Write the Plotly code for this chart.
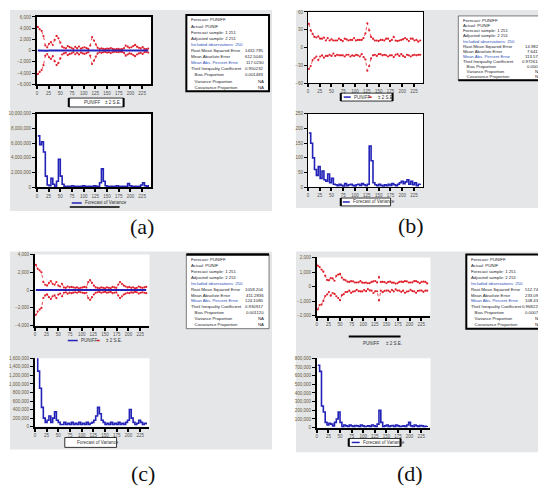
import plotly.graph_objects as go

# reference canvas is 546x489; the page body adds an 8px margin, so the figure is
# sized to the remaining area and reference pixel positions are shifted by that margin
REF_W, REF_H = 546, 489
OFF = 8
FW, FH = REF_W - OFF, REF_H - OFF

# ---------------- data ----------------
OBS = list(range(2, 242, 4))  # observation index (60 points)

FCST_A = [15, -10, 20, -5, 8, -12, 5, 10, -6, 4, 12, -8, 6, -3, 2, 5, -4, 3, -2, 4,
          -3, 2, 5, -2, 3, -4, 2, 1, -3, 6, -5, 4, -2, 3, 1, -2, 2, -1, 3, -2,
          1, 2, -1, 2, -2, 1, 3, -2, 2, 1, -3, 2, 1, -1, 2, -2, 1, 2, -1, 1]
SE2_A = [4200, 3800, 3500, 2600, 900, 600, 1200, 1500, 1000, 1900, 2600, 2200, 1400,
         700, 500, 400, 800, 600, 500, 300, 650, 400, 700, 350, 500, 600, 450, 300,
         900, 2400, 1800, 1100, 500, 300, 400, 300, 250, 350, 300, 450, 300, 200, 250,
         300, 200, 250, 400, 900, 700, 500, 600, 800, 1000, 700, 500, 400, 600, 300, 250, 350]

FCST_B = [2, -1, 1, 0, 1, -1, 0, 1, 0, -1, 1, 0, 0, 1, -1, 0, 1, 0, -1, 0,
          1, 0, -1, 0, 1, 0, 0, -1, 1, 0, 2, 1, -1, 0, 1, 0, -1, 0, 1, 0,
          0, 1, 0, -1, 0, 1, 0, 0, -1, 1, 0, 0, 1, -1, 0, 1, 0, 0, -1, 0]
SE2_B = [38, 30, 22, 18, 16, 20, 15, 14, 17, 13, 15, 12, 14, 11, 13, 12, 14, 13, 12, 15,
         13, 12, 14, 13, 15, 12, 13, 14, 12, 16, 22, 40, 30, 18, 14, 12, 13, 11, 12, 13,
         12, 14, 15, 12, 13, 17, 12, 11, 13, 12, 14, 16, 13, 12, 15, 14, 12, 13, 11, 12]

FCST_C = [20, -15, 10, -5, 8, -6, 4, 6, -3, 5, -4, 3, -2, 2, 4, -3, 2, -1, 3, -2,
          1, 2, -2, 1, 3, -1, 2, -2, 1, 4, -3, 2, -1, 2, 1, -2, 1, -1, 2, -1,
          1, 2, -1, 1, -2, 3, -2, 1, 2, -1, 1, -1, 2, -1, 1, 2, -2, 1, -1, 1]
SE2_C = [2800, 2400, 2200, 2000, 900, 600, 500, 800, 1000, 700, 600, 900, 500, 400, 700,
         300, 250, 400, 300, 350, 300, 250, 300, 200, 250, 300, 350, 300, 900, 1100,
         800, 500, 300, 250, 200, 300, 250, 200, 300, 250, 200, 350, 300, 250, 600,
         900, 700, 500, 400, 300, 350, 250, 300, 200, 250, 400, 300, 250, 300, 350]

FCST_D = [-60, 40, -30, 20, 50, -40, 30, -20, 60, -50, 40, 20, -30, 10, -20, 30, -10, 20, -30, 10,
          -20, 30, -10, 20, -30, 10, -20, 30, -10, 20, -40, 30, -20, -150, 20, -30, 10, -20, 30, -10,
          20, -30, 10, -20, 30, -10, 20, -30, 10, -20, 30, -10, 20, -30, 10, -20, 30, -10, 20, -30]
SE2_D = [1500, 1300, 1200, 1000, 700, 500, 400, 600, 500, 450, 700, 800, 900, 600, 500,
         400, 350, 300, 400, 350, 300, 250, 300, 350, 300, 250, 300, 200, 250, 300,
         400, 350, 300, 800, 300, 350, 300, 250, 300, 350, 250, 300, 200, 250, 300,
         350, 300, 400, 350, 300, 250, 300, 350, 400, 300, 250, 300, 350, 300, 250]

# forecast of variance (millions for A and C, units for B, thousands for D)
VAR_A_M = [7.0, 5.8, 6.2, 4.8, 1.5, 0.3, 0.2, 1.2, 0.4, 0.1, 0.8, 3.8, 1.5, 0.4, 0.1,
           0.05, 0.1, 0.05, 0.2, 0.1, 0.05, 0.1, 0.05, 0.1, 0.2, 0.1, 0.05, 0.1, 0.05, 0.1,
           0.2, 0.1, 0.05, 0.6, 2.5, 0.8, 0.2, 0.1, 0.05, 0.1, 0.05, 0.1, 0.2, 0.1, 0.05,
           0.1, 0.05, 0.1, 0.5, 0.2, 0.1, 0.05, 0.1, 0.05, 0.1, 0.3, 0.6, 0.2, 0.1, 0.3]
VAR_B = [185, 150, 100, 60, 40, 70, 30, 55, 25, 20, 45, 15, 30, 10, 8, 5, 10, 6, 4, 12,
         5, 8, 10, 6, 4, 8, 10, 6, 12, 8, 5, 10, 140, 90, 15, 8, 5, 10, 6, 4,
         8, 5, 10, 6, 12, 8, 5, 10, 15, 20, 12, 18, 25, 10, 20, 8, 15, 5, 10, 12]
VAR_C_M = [1.65, 1.3, 0.9, 0.45, 0.2, 0.1, 0.15, 0.25, 0.1, 0.2, 0.35, 0.15, 0.1, 0.05, 0.05,
           0.1, 0.05, 0.08, 0.05, 0.1, 0.05, 0.08, 0.05, 0.1, 0.05, 0.08, 0.05, 0.1, 0.05, 0.08,
           0.1, 0.15, 0.25, 0.45, 0.3, 0.15, 0.1, 0.05, 0.08, 0.05, 0.1, 0.05, 0.08, 0.05, 0.1,
           0.05, 0.08, 0.05, 0.1, 0.15, 0.4, 0.2, 0.1, 0.05, 0.08, 0.15, 0.1, 0.05, 0.08, 0.05]
VAR_D_K = [720, 650, 250, 180, 60, 30, 50, 40, 20, 60, 100, 180, 60, 10, 30, 20, 10, 30, 20, 10,
           25, 20, 10, 30, 20, 10, 15, 20, 10, 30, 20, 10, 40, 200, 60, 10, 20, 30, 10, 20,
           25, 10, 30, 20, 10, 15, 20, 10, 30, 60, 20, 10, 30, 20, 10, 25, 20, 10, 15, 20]

STAT_LABELS = ["Forecast: PUNIFF", "Actual: PUNIF", "Forecast sample: 1 251",
               "Adjusted sample: 2 251", "Included observations: 250",
               "Root Mean Squared Error", "Mean Absolute Error", "Mean Abs. Percent Error",
               "Theil Inequality Coefficient", "   Bias Proportion",
               "   Variance Proportion", "   Covariance Proportion"]
STAT_VALUES_A = ["", "", "", "", "", "1432.795", "612.5040", "117.0230", "0.950232", "0.001483", "NA", "NA"]
STAT_VALUES_B = ["", "", "", "", "", "14.9826", "7.6412", "113.572", "0.972614", "0.0003", "NA", "NA"]
STAT_VALUES_C = ["", "", "", "", "", "1058.204", "411.2836", "124.1080", "0.930917", "0.001120", "NA", "NA"]
STAT_VALUES_D = ["", "", "", "", "", "512.740", "233.091", "108.430", "0.968225", "0.00074", "NA", "NA"]

LEGEND_FCST = "PUNIFF"
LEGEND_SE = "± 2 S.E."
LEGEND_VAR = "Forecast of Variance"
PANEL_LABELS = ["(a)", "(b)", "(c)", "(d)"]

# ---------------- layout helpers (reference pixels -> paper) ----------------
def px(x):
    return min(max((x - OFF) / FW, 0.0), 1.0)

def py(y):
    return min(max(1 - (y - OFF) / FH, 0.0), 1.0)

RED = "#e0202c"
BLUE = "#2323b8"
GRAY_BG = "#e4e6e8"
SMALL_FONT = "Liberation Sans Narrow, Arial Narrow, Liberation Sans, Arial, sans-serif"

fig = go.Figure()

def band(fc, se, sign):
    return [f + sign * s for f, s in zip(fc, se)]

tops = [(1, FCST_A, SE2_A, True), (2, FCST_B, SE2_B, False),
        (3, FCST_C, SE2_C, True), (4, FCST_D, SE2_D, False)]
for k, fc, se, show_fc in tops:
    xa, ya = ("x" if k == 1 else f"x{k}"), ("y" if k == 1 else f"y{k}")
    for sgn in (1, -1):
        fig.add_trace(go.Scatter(x=OBS, y=band(fc, se, sgn), mode="lines+markers",
                                 line=dict(color=RED, width=0.8, dash="dot"),
                                 marker=dict(color=RED, size=2.2),
                                 xaxis=xa, yaxis=ya, showlegend=False))
    if show_fc:
        fig.add_trace(go.Scatter(x=OBS, y=fc, mode="lines",
                                 line=dict(color=BLUE, width=2),
                                 xaxis=xa, yaxis=ya, showlegend=False))

bots = [(5, [v * 1e6 for v in VAR_A_M]), (6, VAR_B),
        (7, [v * 1e6 for v in VAR_C_M]), (8, [v * 1e3 for v in VAR_D_K])]
for k, vals in bots:
    fig.add_trace(go.Scatter(x=OBS, y=vals, mode="lines", line_shape="hv",
                             line=dict(color=BLUE, width=1.6),
                             xaxis=f"x{k}", yaxis=f"y{k}", showlegend=False))

panels = {
    1: dict(x=(35, 150), y=(15, 83), yr=[-6000, 6000], dt=2000, mirror=True, lw=2),
    2: dict(x=(307, 423), y=(10, 82), yr=[-60, 60], dt=30, mirror=True, lw=1),
    3: dict(x=(33, 148), y=(255, 327), yr=[-4000, 4000], dt=2000, mirror=False, lw=2),
    4: dict(x=(316, 430), y=(258, 317), yr=[-2000, 2000], dt=1000, mirror=False, lw=2),
    5: dict(x=(35, 150), y=(113, 187), yr=[0, 10e6], dt=2e6, mirror=True, lw=2),
    6: dict(x=(307, 423), y=(113, 187), yr=[0, 250], dt=50, mirror=True, lw=1),
    7: dict(x=(33, 148), y=(360, 429), yr=[0, 1.6e6], dt=2e5, mirror=False, lw=2),
    8: dict(x=(316, 430), y=(360, 430), yr=[0, 8e5], dt=1e5, mirror=False, lw=2),
}

shapes = []
for (x0, x1, y0, y1) in [(7, 271, 5, 211), (295, 546, 5, 208), (7, 271, 252, 452), (295, 546, 252, 455)]:
    shapes.append(dict(type="rect", xref="paper", yref="paper", layer="below",
                       x0=px(x0), x1=px(x1), y0=py(y1), y1=py(y0),
                       fillcolor=GRAY_BG, line=dict(width=0)))
for k, p in panels.items():
    shapes.append(dict(type="rect", xref="paper", yref="paper", layer="below",
                       x0=px(p["x"][0]), x1=px(p["x"][1]), y0=py(p["y"][1]), y1=py(p["y"][0]),
                       fillcolor="white", line=dict(width=0)))

lay = {}
for k, p in panels.items():
    sx = "" if k == 1 else str(k)
    lay[f"xaxis{sx}"] = dict(domain=[px(p["x"][0]), px(p["x"][1])], anchor="y" + sx,
                             range=[0, 245], dtick=25, tick0=25, showgrid=False, zeroline=False,
                             showline=True, linecolor="black", linewidth=p["lw"], mirror=p["mirror"],
                             ticks="outside", ticklen=3, tickwidth=1.5, tickcolor="black",
                             tickfont=dict(size=4.5, color="#555", family=SMALL_FONT))
    lay[f"yaxis{sx}"] = dict(domain=[py(p["y"][1]), py(p["y"][0])], anchor="x" + sx,
                             range=p["yr"], dtick=p["dt"], showgrid=False, zeroline=False,
                             showline=True, linecolor="black", linewidth=p["lw"], mirror=p["mirror"],
                             ticks="outside", ticklen=3, tickwidth=1, tickcolor="black",
                             tickformat=",d", tickfont=dict(size=4.5, color="#6b5a3a", family=SMALL_FONT))

annotations = []

boxes = [((185, 268, 13, 90), STAT_VALUES_A, "full"),
         ((458, 550, 14, 79), STAT_VALUES_B, "bottom"),
         ((185, 268, 255, 330), STAT_VALUES_C, "top"),
         ((466, 550, 255, 330), STAT_VALUES_D, "full")]
for (x0, x1, y0, y1), vals, style in boxes:
    shapes.append(dict(type="rect", xref="paper", yref="paper",
                       x0=px(x0), x1=px(x1), y0=py(y1), y1=py(y0), fillcolor="white",
                       line=dict(color="black", width=2 if style == "full" else 0.5)))
    if style == "bottom":
        shapes.append(dict(type="line", xref="paper", yref="paper", x0=px(x0), x1=px(x1),
                           y0=py(y1), y1=py(y1), line=dict(color="black", width=2)))
    if style == "top":
        shapes.append(dict(type="line", xref="paper", yref="paper", x0=px(x0), x1=px(x1),
                           y0=py(y0), y1=py(y0), line=dict(color="black", width=2.5)))
    step = (y1 - y0 - 9) / (len(STAT_LABELS) - 1)
    vx = min(x1 - 3, 543)
    for i, (lab, val) in enumerate(zip(STAT_LABELS, vals)):
        yy = y0 + 5 + i * step
        col = "#2b4fb8" if i in (4, 7) else "#1b1b2b"
        annotations.append(dict(xref="paper", yref="paper", x=px(x0 + 2.5), y=py(yy),
                                text=lab, showarrow=False, xanchor="left", yanchor="middle",
                                font=dict(size=4.3, color=col, family=SMALL_FONT)))
        if val:
            annotations.append(dict(xref="paper", yref="paper", x=px(vx), y=py(yy),
                                    text=val, showarrow=False, xanchor="right", yanchor="middle",
                                    font=dict(size=4.3, color="#1b1b2b", family=SMALL_FONT)))

def pline(x0, x1, y, color="black", width=1.5, dash=None):
    shapes.append(dict(type="line", xref="paper", yref="paper", x0=px(x0), x1=px(x1),
                       y0=py(y), y1=py(y), line=dict(color=color, width=width, dash=dash)))

def pvline(x, y0, y1, width=2):
    shapes.append(dict(type="line", xref="paper", yref="paper", x0=px(x), x1=px(x),
                       y0=py(y1), y1=py(y0), line=dict(color="black", width=width)))

def ptext(x, y, t, size=4.5, color="#333"):
    annotations.append(dict(xref="paper", yref="paper", x=px(x), y=py(y), text=t,
                            showarrow=False, xanchor="left", yanchor="middle",
                            font=dict(size=size, color=color, family=SMALL_FONT)))

def legbox(x0, x1, y0, y1):
    shapes.append(dict(type="rect", xref="paper", yref="paper", x0=px(x0), x1=px(x1),
                       y0=py(y1), y1=py(y0), fillcolor="white",
                       line=dict(color="black", width=0.8)))

# legends, top charts
legbox(67, 122, 97, 106)
pvline(67, 97, 106); pvline(122, 97, 106)
ptext(80, 101.5, LEGEND_FCST); ptext(101, 101.5, LEGEND_SE)

legbox(340, 392, 92, 100)
pvline(340, 92, 100); pvline(392, 92, 100)
pline(343, 350, 96, BLUE, 1.5); ptext(351, 96, LEGEND_FCST)
pline(368, 374, 96, RED, 1.5, "dot"); ptext(375, 96, LEGEND_SE)

pline(66, 76, 342, BLUE, 1.5); ptext(77, 342, LEGEND_FCST)
pline(95, 101, 342, RED, 1.5, "dot"); ptext(102, 342, LEGEND_SE)

pline(348, 400, 338, "black", 2)
ptext(360, 345, LEGEND_FCST); ptext(383, 345, LEGEND_SE)

# legends, bottom charts
pline(70, 80, 203, BLUE, 1.5); ptext(81, 203, LEGEND_VAR)
pline(68, 118, 207, "black", 1.5)

legbox(340, 390, 198, 206)
pvline(340, 198, 206)
pline(342, 349, 202, BLUE, 1.5); ptext(350, 202, LEGEND_VAR)

legbox(63, 115, 440, 450)
ptext(73, 445, LEGEND_VAR)

legbox(348, 400, 441, 449)
pvline(348, 441, 449); pvline(400, 441, 449)
pline(351, 359, 445, BLUE, 1.5); ptext(360, 445, LEGEND_VAR)

for lab, (cx, cy) in zip(PANEL_LABELS, [(140, 227), (410, 226), (141, 476), (409, 476)]):
    annotations.append(dict(xref="paper", yref="paper", x=px(cx), y=py(cy), text=lab,
                            showarrow=False, xanchor="center", yanchor="middle",
                            font=dict(family="Liberation Serif, Times New Roman, serif", size=22, color="#111")))

fig.update_layout(width=FW, height=FH, margin=dict(l=0, r=0, t=0, b=0),
                  paper_bgcolor="white", plot_bgcolor="white", showlegend=False,
                  separators=".,", font=dict(family="Liberation Sans, Arial, sans-serif"),
                  shapes=shapes, annotations=annotations, **lay)

fig.write_html("out.html")
